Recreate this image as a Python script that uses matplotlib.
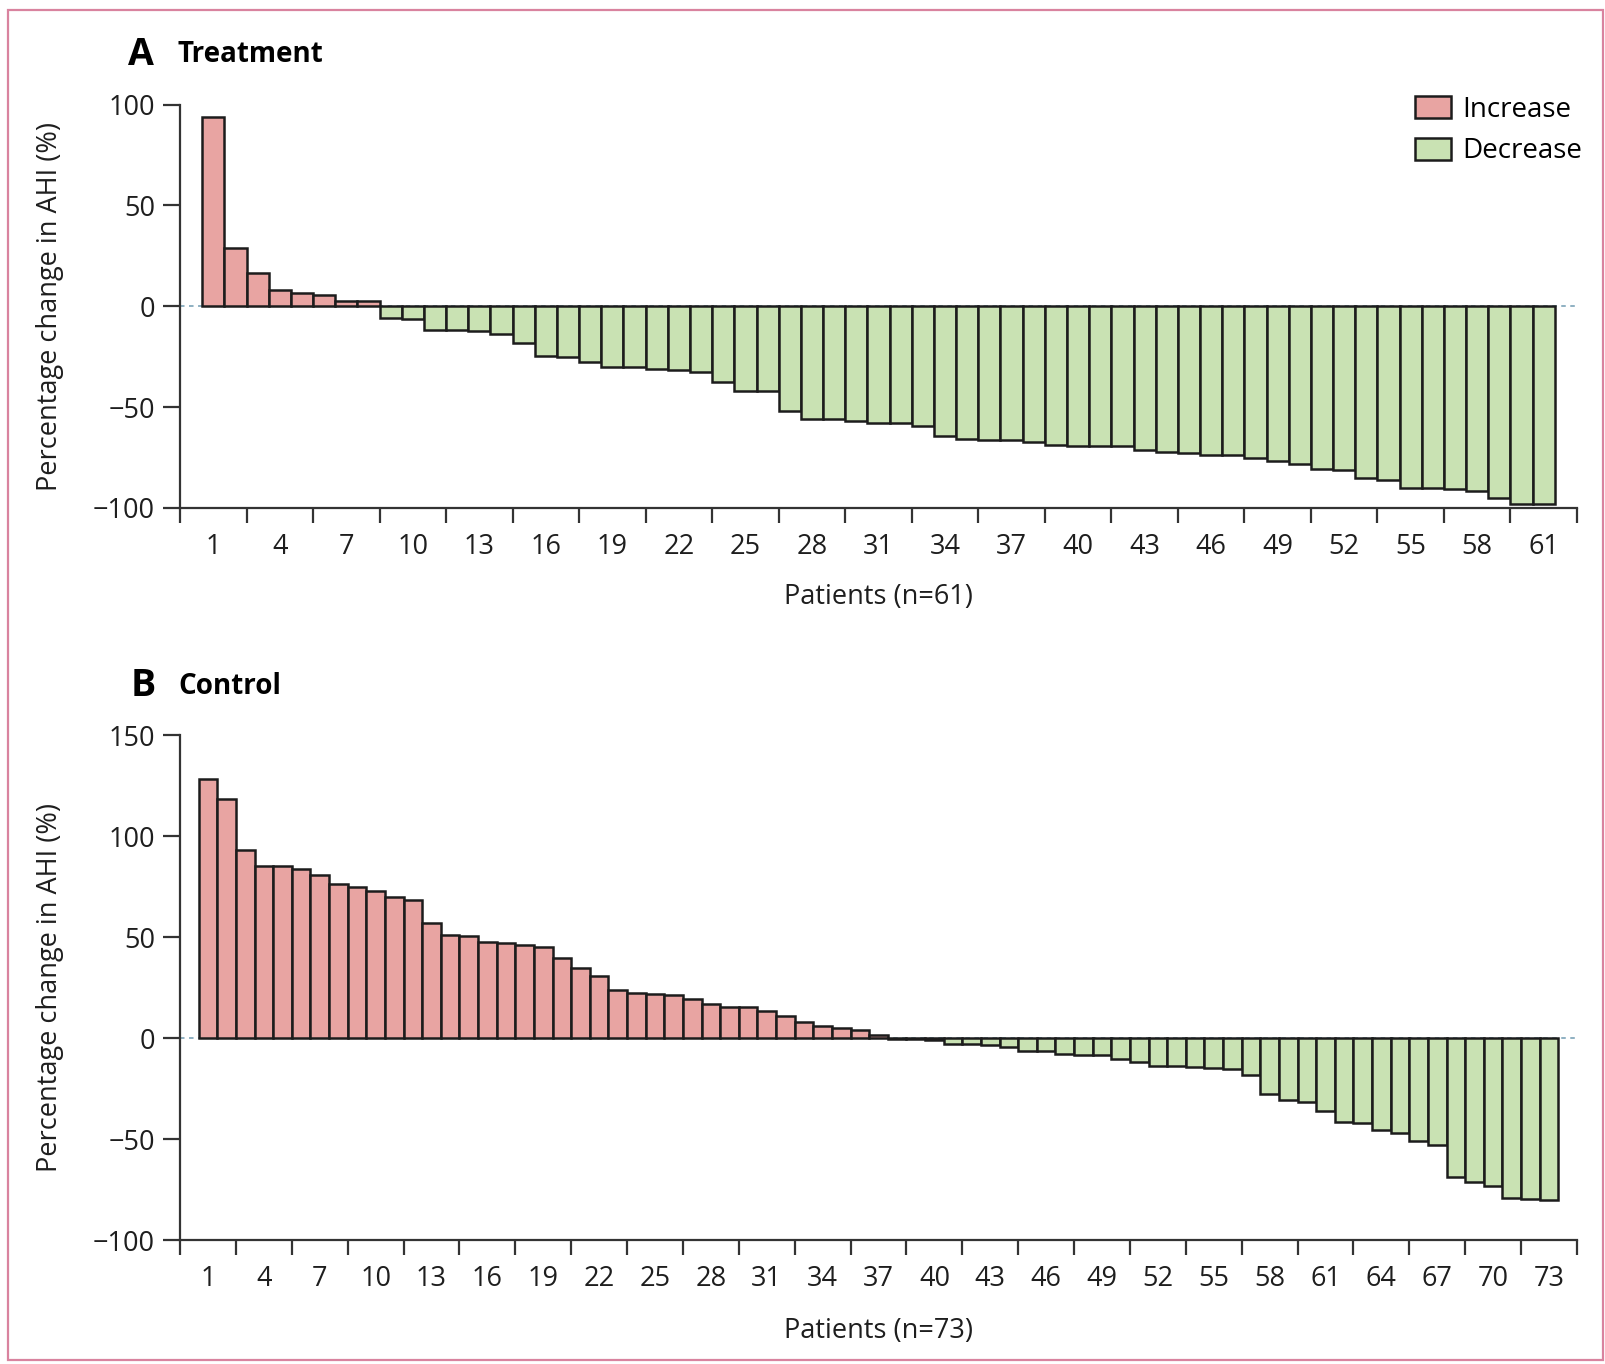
import matplotlib

matplotlib.use("Agg")
import matplotlib.pyplot as plt
import numpy as np
from matplotlib.patches import Patch, Rectangle


# percentage change in AHI per patient, sorted
TREATMENT = [
    93.6, 28.9, 16.5, 8.3, 6.8, 5.8, 2.8, 2.5, -5.6, -6.3,
    -11.9, -11.9, -12.2, -13.9, -18.2, -24.6, -25.3, -27.8, -29.9, -30.1,
    -31.1, -31.4, -32.6, -37.5, -41.8, -41.8, -51.9, -55.7, -55.7, -57.0,
    -57.7, -57.7, -59.5, -64.5, -65.6, -66.1, -66.1, -67.3, -68.6, -69.3,
    -69.3, -69.4, -71.4, -72.2, -72.6, -73.6, -73.9, -75.2, -76.7, -78.0,
    -80.8, -81.3, -85.1, -86.0, -90.1, -90.1, -90.4, -91.7, -94.9, -97.9,
    -97.9,
]
CONTROL = [
    128.4, 118.7, 93.1, 85.3, 85.2, 83.9, 80.7, 76.3, 75.1, 73.1,
    69.8, 68.6, 57.2, 51.2, 50.5, 47.7, 47.3, 46.3, 45.1, 39.8,
    35.0, 30.7, 23.9, 22.3, 21.9, 21.6, 19.4, 16.8, 15.5, 15.4,
    13.3, 11.0, 8.3, 6.2, 5.3, 4.2, 1.8, -0.3, -0.5, -0.9,
    -2.7, -2.7, -3.5, -4.4, -6.2, -6.2, -7.6, -8.3, -8.3, -10.1,
    -11.5, -13.6, -13.8, -14.1, -14.7, -15.4, -18.2, -27.4, -30.6, -31.4,
    -36.2, -41.5, -42.0, -45.6, -46.8, -50.7, -52.7, -68.6, -71.0, -73.3,
    -79.2, -79.5, -80.0,
]
YTICKS_A = [-100, -50, 0, 50, 100]
YTICKS_B = [-100, -50, 0, 50, 100, 150]
LEGEND_LABELS = ["Increase", "Decrease"]

INC_COLOR = "#e8a4a2"
DEC_COLOR = "#c9e2b3"
EDGE = "#1c1c1c"
AXIS = "#333333"

plt.rcParams.update(
    {
        "font.family": ["Open Sans", "DejaVu Sans"],
        "font.size": 19.5,
        "axes.linewidth": 1.6,
        "axes.edgecolor": AXIS,
        "xtick.color": AXIS,
        "ytick.color": AXIS,
        "xtick.labelcolor": "#1e1e1e",
        "ytick.labelcolor": "#1e1e1e",
        "axes.labelcolor": "#1e1e1e",
    }
)

W, H = 1606, 1364
fig = plt.figure(figsize=(W / 100, H / 100), dpi=100)


def fx(px):
    return px / W


def fy(py):
    return 1 - py / H


def draw_panel(ax, values, yticks, xlabel, label_y):
    n = len(values)
    x = np.arange(1, n + 1)
    colors = [INC_COLOR if v > 0 else DEC_COLOR for v in values]
    ax.axhline(0, color="#86aabd", linewidth=1.3, linestyle=(0, (2.5, 2.5)), zorder=1)
    ax.bar(x, values, width=1.0, color=colors, edgecolor=EDGE, linewidth=1.8, zorder=2)

    ax.set_xlim(-0.5, n + 1.5)
    ax.set_ylim(yticks[0], yticks[-1])
    ax.set_yticks(yticks)
    ax.set_xticks(np.arange(1, n + 1, 3))
    ax.set_xticks(np.arange(-0.5, n + 2, 3), minor=True)
    ax.tick_params(axis="x", which="major", length=0, pad=18)
    ax.tick_params(axis="x", which="minor", length=11, width=1.6, direction="out")
    ax.tick_params(axis="y", length=12, width=1.6, direction="out", pad=6)
    for side in ("top", "right"):
        ax.spines[side].set_visible(False)

    ax.set_ylabel("Percentage change in AHI (%)")
    ax.yaxis.set_label_coords(-0.083, 0.5)
    ax.set_xlabel(xlabel)
    ax.xaxis.set_label_coords(0.5, label_y)


ax_a = fig.add_axes([fx(180), fy(508), fx(1577) - fx(180), fy(104.5) - fy(508)])
draw_panel(ax_a, TREATMENT, YTICKS_A, "Patients (n=61)", -0.185)

ax_b = fig.add_axes([fx(180), fy(1240.3), fx(1577) - fx(180), fy(735.4) - fy(1240.3)])
draw_panel(ax_b, CONTROL, YTICKS_B, "Patients (n=73)", -0.152)

handles = [
    Patch(facecolor=INC_COLOR, edgecolor=EDGE, linewidth=1.8),
    Patch(facecolor=DEC_COLOR, edgecolor=EDGE, linewidth=1.8),
]
fig.legend(
    handles,
    LEGEND_LABELS,
    loc="upper left",
    bbox_to_anchor=(fx(1415), fy(96)),
    frameon=False,
    fontsize=20,
    handlelength=1.3,
    handleheight=0.85,
    handletextpad=0.4,
    labelspacing=0.48,
    borderpad=0,
    borderaxespad=0,
)

# panel headings
fig.text(fx(128), fy(55), "A", fontsize=27, fontweight="bold", va="center", ha="left")
fig.text(fx(178), fy(55), "Treatment", fontsize=20, fontweight="bold", va="center", ha="left")
fig.text(fx(131), fy(686), "B", fontsize=27, fontweight="bold", va="center", ha="left")
fig.text(fx(178), fy(686), "Control", fontsize=20, fontweight="bold", va="center", ha="left")

# pink frame around the figure
fig.patches.append(
    Rectangle(
        (fx(8), fy(1360)),
        fx(1603) - fx(8),
        fy(10) - fy(1360),
        transform=fig.transFigure,
        fill=False,
        edgecolor="#d9839f",
        linewidth=1.6,
    )
)

fig.savefig("out.png", dpi=100)
